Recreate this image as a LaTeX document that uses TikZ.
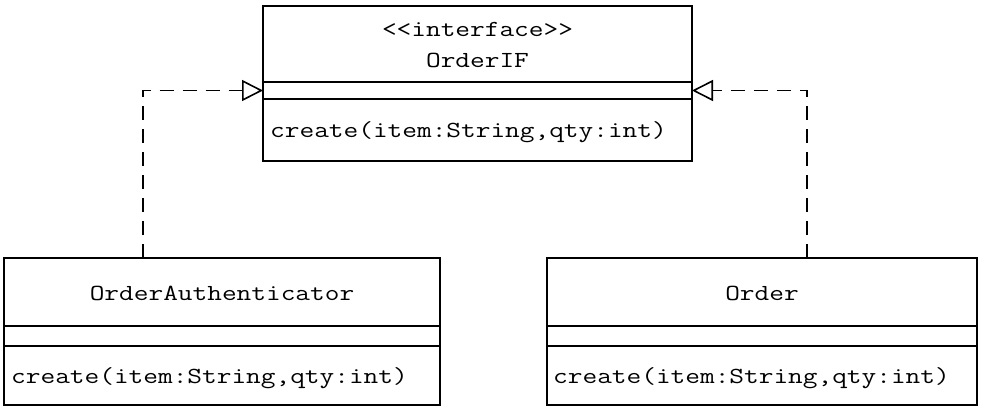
\documentclass[tikz,border=0pt]{standalone}
\usepackage{fontspec}
\newfontfamily\umlfont[FakeStretch=1.24]{Latin Modern Mono}
\usetikzlibrary{arrows.meta,calc}
\begin{document}
\begin{tikzpicture}[x=1pt,y=-1pt,
  comp/.style={draw, line width=1.6pt, inner sep=0pt, outer sep=0pt, anchor=north west},
  txt/.style={font=\fontsize{23}{28}\umlfont, inner sep=0pt, anchor=base},
  optxt/.style={txt, anchor=base west},
  realize/.style={line width=1.6pt, dash pattern=on 14pt off 9pt, -{Triangle[open, length=21pt, width=21pt, line width=1.6pt]}}]
\useasboundingbox (0,0) rectangle (981,409);
% interface OrderIF
\node[comp, minimum width=429pt, minimum height=76pt] (ifname) at (263,6) {};
\node[comp, minimum width=429pt, minimum height=17pt] (ifattr) at (263,82) {};
\node[comp, minimum width=429pt, minimum height=62pt] (ifops) at (263,99) {};
\node[txt] (ifst) at (477.5,37) {<<interface>>};
\node[txt] (iftitle) at (477.5,68) {OrderIF};
\node[optxt] (ifop) at (270,137) {create(item:String,qty:int)};
% OrderAuthenticator
\node[comp, minimum width=436pt, minimum height=68pt] (oaname) at (4,258) {};
\node[comp, minimum width=436pt, minimum height=20pt] (oaattr) at (4,326) {};
\node[comp, minimum width=436pt, minimum height=59pt] (oaops) at (4,346) {};
\node[txt] (oatitle) at (222,300) {OrderAuthenticator};
\node[optxt] (oaop) at (11,383) {create(item:String,qty:int)};
% Order
\node[comp, minimum width=430pt, minimum height=68pt] (oname) at (547,258) {};
\node[comp, minimum width=430pt, minimum height=20pt] (oattr) at (547,326) {};
\node[comp, minimum width=430pt, minimum height=59pt] (oops) at (547,346) {};
\node[txt] (otitle) at (762,300) {Order};
\node[optxt] (oop) at (553,383) {create(item:String,qty:int)};
% realizations
\coordinate (la) at ($(oaname.north west)+(139,0)$);
\coordinate (ra) at ($(oname.north west)+(260,0)$);
\draw[realize] (la) |- (ifattr.west);
\draw[realize] (ra) |- (ifattr.east);
\end{tikzpicture}
\end{document}
